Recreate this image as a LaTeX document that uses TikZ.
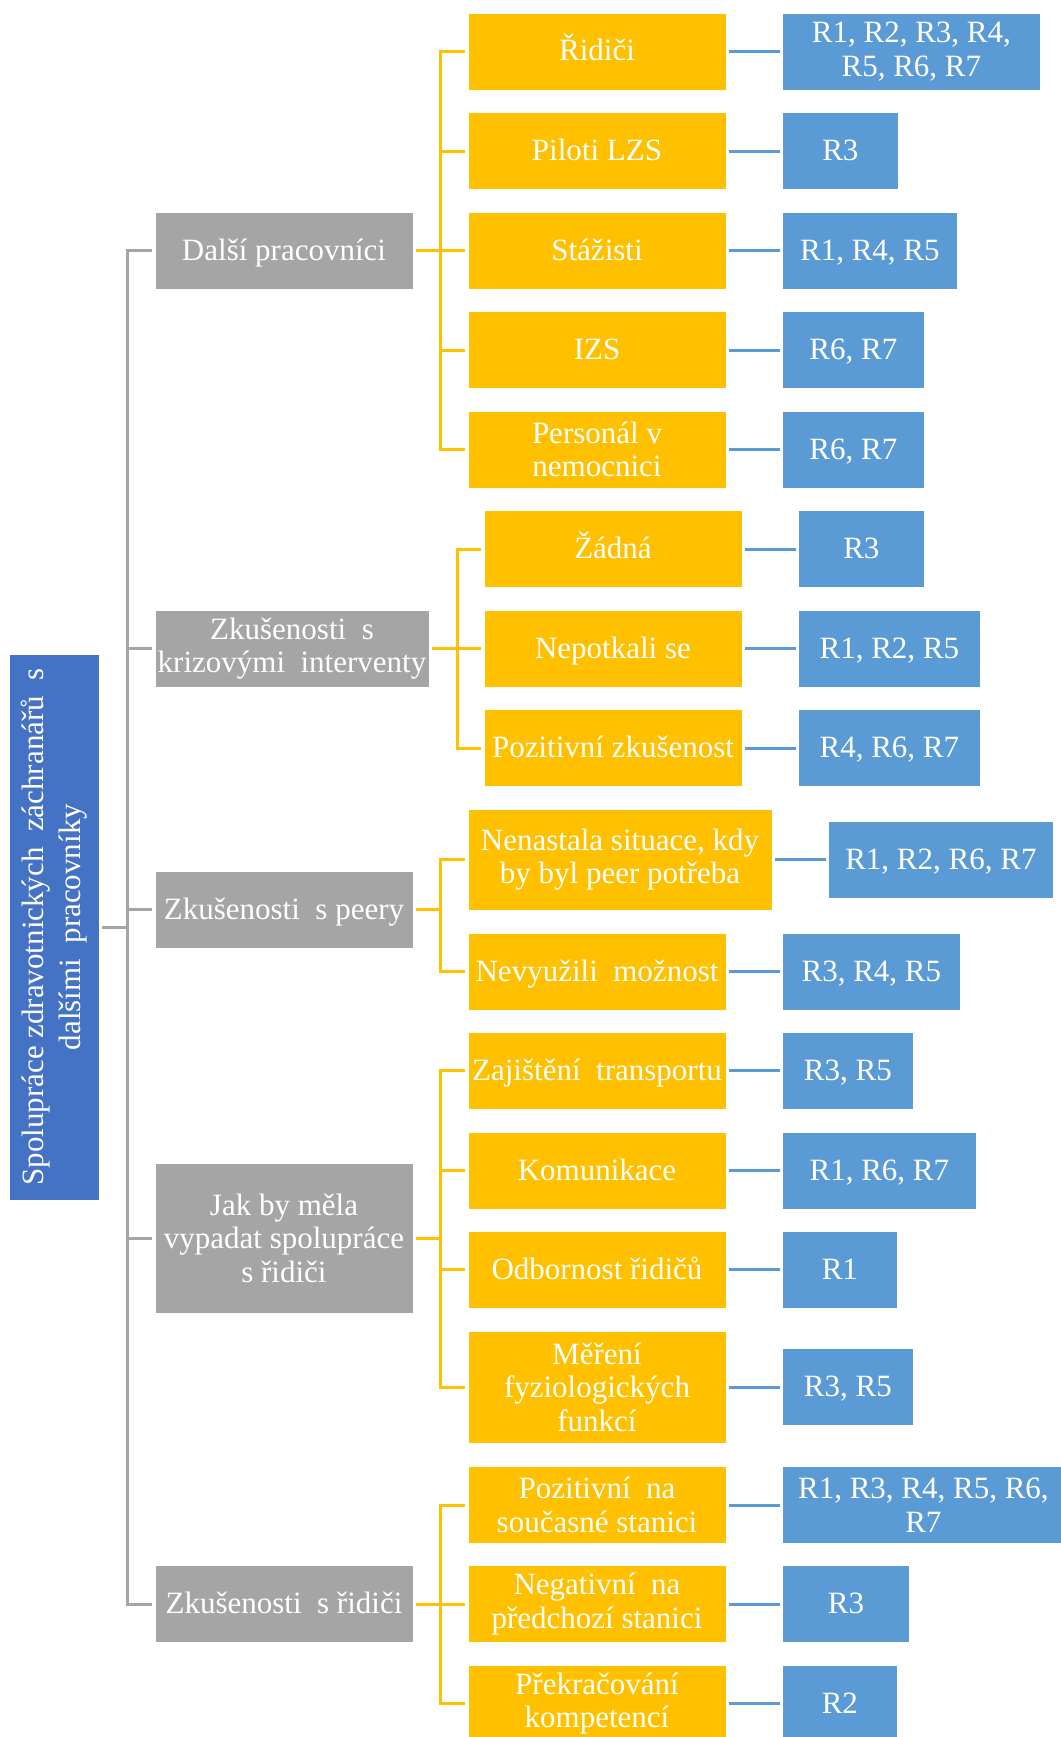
\documentclass[tikz,border=0pt]{standalone}
\usepackage{fontspec}
\setmainfont{Liberation Serif}
\definecolor{rootblue}{HTML}{4472C4}
\definecolor{topicgrey}{HTML}{A5A5A5}
\definecolor{itemgold}{HTML}{FFC000}
\definecolor{respblue}{HTML}{5B9BD5}
\begin{document}
\begin{tikzpicture}
    [
    x=1pt, y=-1pt,
    box/.style={rectangle,draw=white,line width=0.8pt,text=white,align=center,inner sep=1pt,
      font=\fontsize{31}{33.5}\selectfont,minimum height=77pt},
    oneline/.style={text height=25pt,text depth=6pt},
    root/.style={box,fill=rootblue,rotate=90,minimum width=546pt,minimum height=90pt,
      font=\fontsize{31}{37}\selectfont},
    topic/.style={box,fill=topicgrey,minimum width=258pt},
    item/.style={box,fill=itemgold,minimum width=258pt},
    resp/.style={box,fill=respblue,anchor=west},
    link/.style={line width=3pt,shorten <=2.5pt,shorten >=2.5pt},
    glink/.style={link,draw=topicgrey},
    ylink/.style={link,draw=itemgold},
    blink/.style={link,draw=respblue}
    ]
    \useasboundingbox (0,0) rectangle (1060,1737);
    % root
    \node (root) at (54.5,927) [root] {Spolupráce zdravotnických\ \ záchranářů\ \ s\\dalšími\ \ pracovníky};
    % topics
    \node (dp) at (284,250.5) [topic,oneline] {Další pracovníci};
    \node (zki) at (292,648.5) [topic,minimum width=274pt] {Zkušenosti\ \ s\\krizovými\ \ interventy};
    \node (zkp) at (284,909.5) [topic,oneline] {Zkušenosti\ \ s peery};
    \node (jak) at (284,1238) [topic,minimum height=150pt] {Jak by měla\\vypadat spolupráce\\s řidiči};
    \node (zkr) at (284,1604) [topic,oneline] {Zkušenosti\ \ s řidiči};
    % items
    \node (dp1) at (597,51.5) [item,oneline] {Řidiči};
    \node (dp2) at (597,151) [item,oneline] {Piloti LZS};
    \node (dp3) at (597,250.5) [item,oneline] {Stážisti};
    \node (dp4) at (597,350) [item,oneline] {IZS};
    \node (dp5) at (597,449.5) [item] {Personál v\\nemocnici};
    \node (zki1) at (613,549) [item,oneline] {Žádná};
    \node (zki2) at (613,648.5) [item,oneline] {Nepotkali se};
    \node (zki3) at (613,748) [item,oneline] {Pozitivní zkušenost};
    \node (zkp1) at (620,859.5) [item,minimum width=304pt,minimum height=101pt] {Nenastala situace, kdy\\by byl peer potřeba};
    \node (zkp2) at (597,971.5) [item,oneline] {Nevyužili\ \ možnost};
    \node (jak1) at (597,1070.5) [item,oneline] {Zajištění\ \ transportu};
    \node (jak2) at (597,1170.5) [item,oneline] {Komunikace};
    \node (jak3) at (597,1269.5) [item,oneline] {Odbornost řidičů};
    \node (jak4) at (597,1387) [item,minimum height=112pt] {Měření\\fyziologických\\funkcí};
    \node (zkr1) at (597,1505) [item] {Pozitivní\ \ na\\současné stanici};
    \node (zkr2) at (597,1604) [item] {Negativní\ \ na\\předchozí stanici};
    \node (zkr3) at (597,1703.5) [item] {Překračování\\kompetencí};
    % respondents
    \node (rdp1) at (782,51.5) [resp,minimum width=258pt] {R1, R2, R3, R4,\\R5, R6, R7};
    \node (rdp2) at (782,151) [resp,oneline,minimum width=116pt] {R3};
    \node (rdp3) at (782,250.5) [resp,oneline,minimum width=175pt] {R1, R4, R5};
    \node (rdp4) at (782,350) [resp,oneline,minimum width=142pt] {R6, R7};
    \node (rdp5) at (782,449.5) [resp,oneline,minimum width=142pt] {R6, R7};
    \node (rzki1) at (798,549) [resp,oneline,minimum width=126pt] {R3};
    \node (rzki2) at (798,648.5) [resp,oneline,minimum width=182pt] {R1, R2, R5};
    \node (rzki3) at (798,748) [resp,oneline,minimum width=182pt] {R4, R6, R7};
    \node (rzkp1) at (828,859.5) [resp,oneline,minimum width=225pt] {R1, R2, R6, R7};
    \node (rzkp2) at (782,971.5) [resp,oneline,minimum width=178pt] {R3, R4, R5};
    \node (rjak1) at (782,1070.5) [resp,oneline,minimum width=131pt] {R3, R5};
    \node (rjak2) at (782,1170.5) [resp,oneline,minimum width=194pt] {R1, R6, R7};
    \node (rjak3) at (782,1269.5) [resp,oneline,minimum width=115pt] {R1};
    \node (rjak4) at (782,1387) [resp,oneline,minimum width=131pt] {R3, R5};
    \node (rzkr1) at (782,1505) [resp,minimum width=282pt] {R1, R3, R4, R5, R6,\\R7};
    \node (rzkr2) at (782,1604) [resp,oneline,minimum width=127pt] {R3};
    \node (rzkr3) at (782,1703.5) [resp,oneline,minimum width=115pt] {R2};
    % root to topics
    \draw [glink] (root.south) -- ++(28,0) |- (dp.west);
    \draw [glink] (root.south) -- ++(28,0) |- (zki.west);
    \draw [glink] (root.south) -- ++(28,0) |- (zkp.west);
    \draw [glink] (root.south) -- ++(28,0) |- (jak.west);
    \draw [glink] (root.south) -- ++(28,0) |- (zkr.west);
    % topics to items
    \draw [ylink] (dp.east) -- ++(27,0) |- (dp1.west);
    \draw [ylink] (dp.east) -- ++(27,0) |- (dp2.west);
    \draw [ylink] (dp.east) -- ++(27,0) |- (dp3.west);
    \draw [ylink] (dp.east) -- ++(27,0) |- (dp4.west);
    \draw [ylink] (dp.east) -- ++(27,0) |- (dp5.west);
    \draw [ylink] (zki.east) -- ++(28,0) |- (zki1.west);
    \draw [ylink] (zki.east) -- ++(28,0) |- (zki2.west);
    \draw [ylink] (zki.east) -- ++(28,0) |- (zki3.west);
    \draw [ylink] (zkp.east) -- ++(27,0) |- (zkp1.west);
    \draw [ylink] (zkp.east) -- ++(27,0) |- (zkp2.west);
    \draw [ylink] (jak.east) -- ++(27,0) |- (jak1.west);
    \draw [ylink] (jak.east) -- ++(27,0) |- (jak2.west);
    \draw [ylink] (jak.east) -- ++(27,0) |- (jak3.west);
    \draw [ylink] (jak.east) -- ++(27,0) |- (jak4.west);
    \draw [ylink] (zkr.east) -- ++(27,0) |- (zkr1.west);
    \draw [ylink] (zkr.east) -- ++(27,0) |- (zkr2.west);
    \draw [ylink] (zkr.east) -- ++(27,0) |- (zkr3.west);
    % items to respondents
    \draw [blink] (dp1) -- (rdp1);
    \draw [blink] (dp2) -- (rdp2);
    \draw [blink] (dp3) -- (rdp3);
    \draw [blink] (dp4) -- (rdp4);
    \draw [blink] (dp5) -- (rdp5);
    \draw [blink] (zki1) -- (rzki1);
    \draw [blink] (zki2) -- (rzki2);
    \draw [blink] (zki3) -- (rzki3);
    \draw [blink] (zkp1.east) -- (rzkp1.west);
    \draw [blink] (zkp2) -- (rzkp2);
    \draw [blink] (jak1) -- (rjak1);
    \draw [blink] (jak2) -- (rjak2);
    \draw [blink] (jak3) -- (rjak3);
    \draw [blink] (jak4) -- (rjak4);
    \draw [blink] (zkr1) -- (rzkr1);
    \draw [blink] (zkr2) -- (rzkr2);
    \draw [blink] (zkr3) -- (rzkr3);
  \end{tikzpicture}
\end{document}
